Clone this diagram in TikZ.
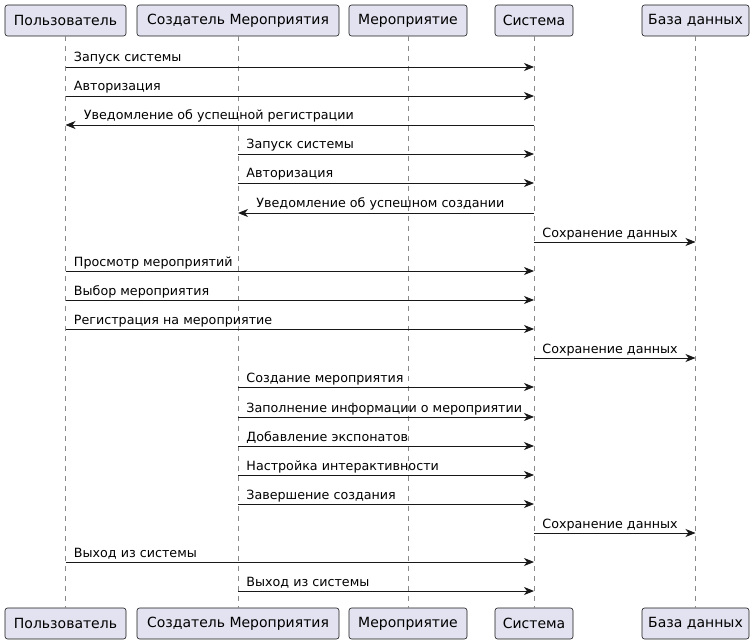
\documentclass[tikz,border=0pt]{standalone}
\usepackage{fontspec}
\setmainfont{DejaVu Sans}
\usetikzlibrary{arrows.meta}
\definecolor{partfill}{HTML}{E2E2F0}
\definecolor{ink}{HTML}{181818}
\definecolor{lifegray}{HTML}{8A8A8A}

\begin{document}
\begin{tikzpicture}[x=1pt,y=-1pt,
  part/.style={draw=ink, fill=partfill, rounded corners=2.5pt, line width=0.6pt,
    minimum height=31pt, inner sep=0pt, text=black, font=\fontsize{14}{16}\selectfont},
  life/.style={draw=lifegray, line width=0.6pt, dash pattern=on 5pt off 5pt},
  msg/.style={draw=ink, line width=0.9pt, -{Stealth[length=10pt,width=8pt,inset=3pt]}},
  lbl/.style={anchor=base west, font=\fontsize{12.7}{15}\selectfont, inner sep=0pt, text=black},
  fwd/.style={lbl, pos=0, xshift=8pt, yshift=5pt},
  back/.style={lbl, pos=1, xshift=18pt, yshift=5pt}]
\useasboundingbox (0,0) rectangle (754,644);

% participants, top and bottom
\node[part, minimum width=121pt] (u)  at (65.5,20.5) {Пользователь};
\node[part, minimum width=202pt] (c)  at (238,20.5)  {Создатель Мероприятия};
\node[part, minimum width=118pt] (e)  at (408,20.5)  {Мероприятие};
\node[part, minimum width=78pt]  (s)  at (534,20.5)  {Система};
\node[part, minimum width=107pt] (d)  at (695.5,20.5) {База данных};
\node[part, minimum width=121pt] (ub) at (65.5,623.5) {Пользователь};
\node[part, minimum width=202pt] (cb) at (238,623.5)  {Создатель Мероприятия};
\node[part, minimum width=118pt] (eb) at (408,623.5)  {Мероприятие};
\node[part, minimum width=78pt]  (sb) at (534,623.5)  {Система};
\node[part, minimum width=107pt] (db) at (695.5,623.5) {База данных};

% lifelines
\foreach \a/\b in {u/ub, c/cb, e/eb, s/sb, d/db}
  \draw[life] (\a.south) -- (\b.north);

% message rows
\foreach \i/\y in {1/67, 2/96, 3/125, 4/154, 5/183, 6/213, 7/242, 8/271, 9/300,
  10/329, 11/358, 12/387, 13/417, 14/446, 15/475, 16/504, 17/533, 18/562, 19/591}
  \coordinate (r\i) at (0,\y);

% messages
\draw[msg] (u |- r1) -- node[fwd] (t1) {Запуск системы} (s |- r1);
\draw[msg] (u |- r2) -- node[fwd] (t2) {Авторизация} (s |- r2);
\draw[msg] (s |- r3) -- node[back] (t3) {Уведомление об успешной регистрации} (u |- r3);
\draw[msg] (c |- r4) -- node[fwd] (t4) {Запуск системы} (s |- r4);
\draw[msg] (c |- r5) -- node[fwd] (t5) {Авторизация} (s |- r5);
\draw[msg] (s |- r6) -- node[back] (t6) {Уведомление об успешном создании} (c |- r6);
\draw[msg] (s |- r7) -- node[fwd] (t7) {Сохранение данных} (d |- r7);
\draw[msg] (u |- r8) -- node[fwd] (t8) {Просмотр мероприятий} (s |- r8);
\draw[msg] (u |- r9) -- node[fwd] (t9) {Выбор мероприятия} (s |- r9);
\draw[msg] (u |- r10) -- node[fwd] (t10) {Регистрация на мероприятие} (s |- r10);
\draw[msg] (s |- r11) -- node[fwd] (t11) {Сохранение данных} (d |- r11);
\draw[msg] (c |- r12) -- node[fwd] (t12) {Создание мероприятия} (s |- r12);
\draw[msg] (c |- r13) -- node[fwd] (t13) {Заполнение информации о мероприятии} (s |- r13);
\draw[msg] (c |- r14) -- node[fwd] (t14) {Добавление экспонатов} (s |- r14);
\draw[msg] (c |- r15) -- node[fwd] (t15) {Настройка интерактивности} (s |- r15);
\draw[msg] (c |- r16) -- node[fwd] (t16) {Завершение создания} (s |- r16);
\draw[msg] (s |- r17) -- node[fwd] (t17) {Сохранение данных} (d |- r17);
\draw[msg] (u |- r18) -- node[fwd] (t18) {Выход из системы} (s |- r18);
\draw[msg] (c |- r19) -- node[fwd] (t19) {Выход из системы} (s |- r19);
\end{tikzpicture}
\end{document}
